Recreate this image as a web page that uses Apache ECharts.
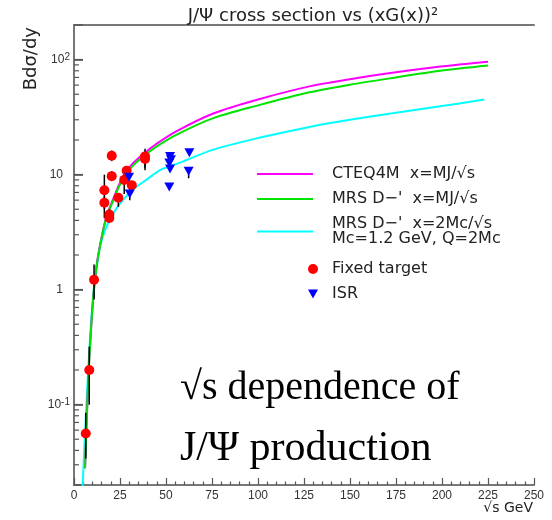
<!DOCTYPE html>
<html><head><meta charset="utf-8">
<script src="https://cdn.jsdelivr.net/npm/echarts@6/dist/echarts.min.js"></script>
<style>html,body{margin:0;padding:0;background:#fff}#c{width:552px;height:520px}</style>
</head><body><div id="c"></div>
<script>
// ---- data ----
const xTicks = [0, 25, 50, 75, 100, 125, 150, 175, 200, 225, 250];
const yMajorTicks = [0.1, 1, 10, 100];
const yMinorTicks = [0.03,0.04,0.05,0.06,0.07,0.08,0.09, 0.2,0.3,0.4,0.5,0.6,0.7,0.8,0.9, 2,3,4,5,6,7,8,9, 20,30,40,50,60,70,80,90];

const sqrtsMJ = [6.0, 7, 8, 8.7, 10, 11.4, 13, 15.9, 18, 21.4, 25, 28.6, 33, 37.7, 45, 55.8, 75.7, 100, 128, 150, 175, 199, 225];
const cteq4m  = [0.028, 0.08, 0.2, 0.32, 0.68, 1.23, 1.93, 3.35, 4.5, 6.2, 8.5, 10.8, 13.0, 15.1, 18.6, 23.9, 34, 45, 58.5, 67.5, 77.5, 87, 96];
const mrsMJ   = [0.028, 0.08, 0.2, 0.32, 0.68, 1.22, 1.9, 3.3, 4.4, 6.0, 8.2, 10.3, 12.4, 14.4, 17.6, 22.3, 31, 40, 52, 60.5, 70, 80, 89];

const sqrtsMc = [4.5, 5.5, 6, 7, 8, 9, 10, 11, 12, 14, 16, 18.6, 22, 26.8, 32, 39.5, 47, 57.6, 75.7, 100, 128, 150, 175, 199, 223];
const mrsMc   = [0.017, 0.038, 0.057, 0.12, 0.24, 0.45, 0.75, 1.1, 1.45, 2.3, 3.0, 3.8, 4.8, 6.06, 7.4, 9.05, 11.0, 12.7, 16.5, 20.8, 26, 30, 34.5, 39.3, 44.9];

const fixedX  = [6.4, 8.3, 10.9, 16.5, 16.5, 19.2, 19.2, 20.5, 20.5, 24.1, 27.3, 28.6, 31.4, 38.6, 38.6];
const fixedY  = [0.056, 0.20, 1.22, 7.3, 5.7, 4.5, 4.2, 14.6, 9.7, 6.3, 9.0, 10.8, 8.1, 14.4, 13.7];
const fixedLo = [0.034, 0.10, 0.82, 5.0, 4.2, 4.0, 3.8, 13.1, 8.8, 5.25, 6.8, 10.2, 7.5, 11.5, 10.9];
const fixedHi = [0.085, 0.32, 1.65, 10.0, 6.5, 5.0, 4.6, 16.2, 10.7, 6.9, 10.0, 11.4, 8.7, 16.8, 15.5];

const isrX  = [29.9, 30.3, 52.2, 52.7, 51.8, 52.2, 51.8, 62.7, 62.3];
const isrY  = [9.5, 6.8, 14.4, 13.5, 12.6, 11.2, 7.8, 15.5, 10.7];
const isrLo = [9.0, 6.0, 13.7, 12.9, 12.0, 10.6, 7.4, 14.7, 9.3];
const isrHi = [10.0, 7.6, 15.1, 14.1, 13.2, 11.8, 8.2, 16.3, 11.6];

const names = ['CTEQ4M  x=MJ/\u221As', "MRS D\u2212'  x=MJ/\u221As", "MRS D\u2212'  x=2Mc/\u221As\nMc=1.2 GeV, Q=2Mc", 'Fixed target', 'ISR'];
// -------------------------------------

const zip = (a, b) => a.map((v, i) => [v, b[i]]);
const zip3 = (a, b, c) => a.map((v, i) => [v, b[i], c[i]]);
const AX = '#777777';
const TK = '#555555';
const SANS = 'DejaVu Sans';

function errRender(params, api) {
  const p1 = api.coord([api.value(0), api.value(1)]);
  const p2 = api.coord([api.value(0), api.value(2)]);
  return { type: 'line', shape: { x1: p1[0], y1: p1[1], x2: p2[0], y2: p2[1] }, style: { stroke: '#000', lineWidth: 1.5 } };
}

const chart = echarts.init(document.getElementById('c'));
const legendBase = { orient: 'vertical', padding: 0, selectedMode: false, itemHeight: 18,
  textStyle: { fontFamily: SANS, fontSize: 16, color: '#222', lineHeight: 18 } };
function lg(extra, txt) {
  return Object.assign({}, legendBase, extra, { textStyle: Object.assign({}, legendBase.textStyle, txt) });
}
chart.setOption({
  animation: false,
  title: { text: 'J/\u03A8 cross section vs (xG(x))\u00B2', left: 308, top: 2, textAlign: 'center',
    textStyle: { fontFamily: SANS, fontSize: 18, fontWeight: 'normal', color: '#222' } },
  legend: [
    lg({ data: [{ name: names[0], icon: 'rect' }], left: 257, top: 165, itemWidth: 56, itemHeight: 2 }, { padding: [0, 0, 0, 14] }),
    lg({ data: [{ name: names[1], icon: 'rect' }], left: 257, top: 190, itemWidth: 56, itemHeight: 2 }, { padding: [0, 0, 0, 14] }),
    lg({ data: [{ name: names[2], icon: 'rect' }], left: 257, top: 216, itemWidth: 56, itemHeight: 2 }, { lineHeight: 15, padding: [0, 0, 0, 14] }),
    lg({ data: [{ name: names[3], icon: 'circle' }], left: 308, top: 260, itemWidth: 10, itemHeight: 10 }, { padding: [0, 0, 0, 9] }),
    lg({ data: [{ name: names[4], icon: 'path://M0,0L10,0L5,9Z' }], left: 308, top: 285, itemWidth: 10, itemHeight: 9 }, { padding: [0, 0, 0, 9] })
  ],
  grid: { left: 74, right: 18, top: 25, bottom: 35 },
  xAxis: [{
    type: 'value', min: xTicks[0], max: xTicks[xTicks.length - 1], interval: 25,
    axisLine: { show: true, onZero: false, lineStyle: { color: AX, width: 2 } },
    axisTick: { show: true, inside: true, length: 7, lineStyle: { color: TK, width: 1.2 } },
    minorTick: { show: true, splitNumber: 5, length: 3.5, lineStyle: { color: TK, width: 1.2 } },
    splitLine: { show: false },
    axisLabel: { fontFamily: 'Liberation Sans', fontSize: 12, color: '#333', margin: 5 }
  }, {
    type: 'value', position: 'top', min: xTicks[0], max: xTicks[xTicks.length - 1],
    axisLine: { show: true, onZero: false, lineStyle: { color: AX, width: 2 } },
    axisTick: { show: false }, axisLabel: { show: false }, splitLine: { show: false }
  }],
  yAxis: [{
    type: 'log', logBase: 10, min: 0.02, max: 200,
    axisLine: { show: true, lineStyle: { color: AX, width: 2 } },
    axisTick: { show: true, inside: true, length: 9, lineStyle: { color: TK, width: 1.5 } },
    splitLine: { show: false },
    axisLabel: {
      margin: 4, color: '#333', fontFamily: 'Liberation Sans', fontSize: 12,
      formatter: function (v) {
        const e = Math.round(Math.log10(v));
        if (Math.abs(v - Math.pow(10, e)) / Math.pow(10, e) > 1e-6) return '';
        if (e === 0) return '{n|1}';
        if (e === 1) return '{n|10}';
        return '{b|10}{s|' + e + '}';
      },
      rich: {
        n: { fontFamily: 'Liberation Sans', fontSize: 12, color: '#333', padding: [0, 7, 0, 0] },
        b: { fontFamily: 'Liberation Sans', fontSize: 12, color: '#333' },
        s: { fontFamily: 'Liberation Sans', fontSize: 10, color: '#333', padding: [0, 0, 5, 0] }
      }
    }
  }, {
    type: 'log', logBase: 10, min: 0.02, max: 200, position: 'right',
    axisLine: { show: true, lineStyle: { color: AX, width: 2 } },
    axisTick: { show: false }, axisLabel: { show: false }, splitLine: { show: false }
  }],
  graphic: [
    { type: 'text', x: 31, y: 27, rotation: Math.PI / 2,
      style: { text: 'Bd\u03C3/dy', fontFamily: SANS, fontSize: 18, fill: '#222', align: 'right', verticalAlign: 'middle' } },
    { type: 'text', x: 533, y: 508,
      style: { text: '\u221As GeV', fontFamily: SANS, fontSize: 14, fill: '#222', align: 'right', verticalAlign: 'middle' } },
    { type: 'text', x: 180, y: 388, z: 100,
      style: { text: '\u221As dependence of', fontFamily: 'Liberation Serif', fontSize: 40, fill: '#000', align: 'left', verticalAlign: 'middle' } },
    { type: 'text', x: 180, y: 449, z: 100,
      style: { text: 'J/\u03A8 production', fontFamily: 'Liberation Serif', fontSize: 42, fill: '#000', align: 'left', verticalAlign: 'middle' } }
  ],
  series: [
    { name: 'yMajorTickMarks', type: 'scatter', silent: true, clip: false, z: 10,
      data: yMajorTicks.map(v => [0, v]), symbol: 'rect', symbolSize: [9, 1.4], symbolOffset: [4.5, 0],
      itemStyle: { color: TK, opacity: 1 } },
    { name: 'yMinorTickMarks', type: 'scatter', silent: true, clip: false, z: 10,
      data: yMinorTicks.map(v => [0, v]), symbol: 'rect', symbolSize: [5, 1.2], symbolOffset: [2.5, 0],
      itemStyle: { color: TK, opacity: 1 } },
    { name: names[2], type: 'line', data: zip(sqrtsMc, mrsMc), showSymbol: false, symbol: 'none', smooth: 0.3,
      lineStyle: { color: '#00ffff', width: 2 }, itemStyle: { color: '#00ffff' }, z: 2 },
    { name: names[1], type: 'line', data: zip(sqrtsMJ, mrsMJ), showSymbol: false, symbol: 'none', smooth: 0.3,
      lineStyle: { color: '#00e400', width: 2 }, itemStyle: { color: '#00e400' }, z: 3 },
    { name: names[0], type: 'line', data: zip(sqrtsMJ, cteq4m), showSymbol: false, symbol: 'none', smooth: 0.3,
      lineStyle: { color: '#ff00ff', width: 2 }, itemStyle: { color: '#ff00ff' }, z: 2 },
    { name: 'fixedErr', type: 'custom', silent: true, z: 4, data: zip3(fixedX, fixedLo, fixedHi),
      encode: { x: 0, y: [1, 2] }, renderItem: errRender },
    { name: 'isrErr', type: 'custom', silent: true, z: 4, data: zip3(isrX, isrLo, isrHi),
      encode: { x: 0, y: [1, 2] }, renderItem: errRender },
    { name: names[3], type: 'scatter', data: zip(fixedX, fixedY), symbol: 'circle', symbolSize: 10,
      itemStyle: { color: '#ff0000', opacity: 1 }, z: 5 },
    { name: names[4], type: 'scatter', data: zip(isrX, isrY), symbol: 'triangle', symbolRotate: 180, symbolSize: [10, 9],
      itemStyle: { color: '#0000ff', opacity: 1 }, z: 5 }
  ]
});
</script></body></html>
